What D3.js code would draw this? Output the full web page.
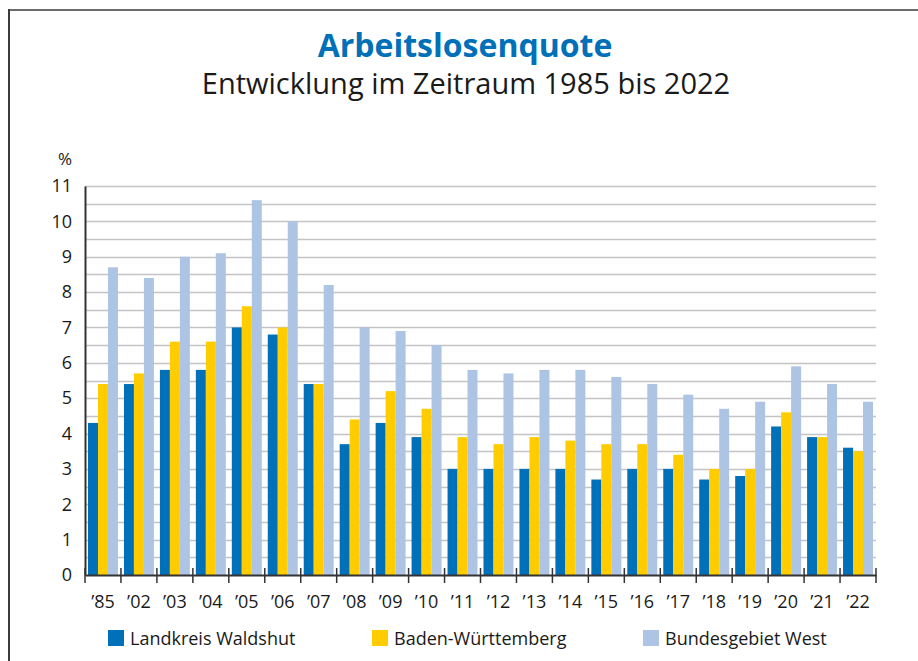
<!DOCTYPE html>
<html>
<head>
<meta charset="utf-8">
<script src="https://cdn.jsdelivr.net/npm/d3@7"></script>
<style>
  body { margin: 0; background: #fff; }
  svg { display: block; font-family: "Open Sans", sans-serif; }
</style>
</head>
<body>
<div id="chart"></div>
<script>
var years = ["\u201985", "\u201902", "\u201903", "\u201904", "\u201905", "\u201906", "\u201907", "\u201908", "\u201909", "\u201910", "\u201911",
             "\u201912", "\u201913", "\u201914", "\u201915", "\u201916", "\u201917", "\u201918", "\u201919", "\u201920", "\u201921", "\u201922"];
var waldshut = [4.3, 5.4, 5.8, 5.8, 7.0, 6.8, 5.4, 3.7, 4.3, 3.9, 3.0, 3.0, 3.0, 3.0, 2.7, 3.0, 3.0, 2.7, 2.8, 4.2, 3.9, 3.6];
var bawue    = [5.4, 5.7, 6.6, 6.6, 7.6, 7.0, 5.4, 4.4, 5.2, 4.7, 3.9, 3.7, 3.9, 3.8, 3.7, 3.7, 3.4, 3.0, 3.0, 4.6, 3.9, 3.5];
var west     = [8.7, 8.4, 9.0, 9.1, 10.6, 10.0, 8.2, 7.0, 6.9, 6.5, 5.8, 5.7, 5.8, 5.8, 5.6, 5.4, 5.1, 4.7, 4.9, 5.9, 5.4, 4.9];
var seriesNames = ["Landkreis Waldshut", "Baden-W\u00fcrttemberg", "Bundesgebiet West"];
var colors = ["#0070b9", "#ffcc00", "#aec4e4"];
var yTicks = [0, 1, 2, 3, 4, 5, 6, 7, 8, 9, 10, 11];

var width = 918, height = 661;
var plotLeft = 85, plotRight = 876, plotTop = 186, plotBottom = 575;

var svg = d3.select('#chart').append('svg')
            .attr('width', width)
            .attr('height', height);

// frame (top and left only)
svg.append('line').attr('x1', 8).attr('x2', width).attr('y1', 10).attr('y2', 10)
   .style('stroke', '#6b6b6b').style('stroke-width', 2);
svg.append('line').attr('x1', 9).attr('x2', 9).attr('y1', 9).attr('y2', height)
   .style('stroke', '#3c3c3c').style('stroke-width', 2);

// titles
svg.append('text').attr('x', 465).attr('y', 57).attr('text-anchor', 'middle')
   .style('font-size', '32px').style('font-weight', 'bold').style('fill', '#0070b9')
   .text('Arbeitslosenquote');
svg.append('text').attr('x', 466).attr('y', 94).attr('text-anchor', 'middle')
   .style('font-size', '29px').style('fill', '#1a1a1a')
   .text('Entwicklung im Zeitraum 1985 bis 2022');

var y = d3.scaleLinear().domain([0, 11]).range([plotBottom, plotTop]);
var x = d3.scaleBand().domain(years).range([plotLeft, plotRight]).paddingInner(0).paddingOuter(0);
var inner = d3.scaleBand().domain([0, 1, 2]).range([0, x.bandwidth()]).paddingOuter(0.3).paddingInner(0);

// gridlines every 0.5
var gridVals = d3.range(1, 23).map(function (d) { return d / 2; });
svg.append('g').selectAll('line').data(gridVals).enter().append('line')
   .attr('x1', plotLeft).attr('x2', plotRight)
   .attr('y1', function (d) { return Math.round(y(d)) + 0.5; })
   .attr('y2', function (d) { return Math.round(y(d)) + 0.5; })
   .style('stroke', '#c4c4c4').style('stroke-width', 1.5);

// bars
var all = [waldshut, bawue, west];
var groups = svg.append('g').selectAll('g').data(years).enter().append('g')
                .attr('transform', function (d) { return 'translate(' + x(d) + ',0)'; });
groups.selectAll('rect')
      .data(function (d, i) { return all.map(function (s, k) { return {k: k, v: s[i]}; }); })
      .enter().append('rect')
      .attr('x', function (d) { return inner(d.k); })
      .attr('width', inner.bandwidth())
      .attr('y', function (d) { return y(d.v); })
      .attr('height', function (d) { return plotBottom - y(d.v); })
      .style('fill', function (d) { return colors[d.k]; });

// y axis
var yAxis = d3.axisLeft(y).tickValues(yTicks).tickSize(0).tickPadding(13);
var yg = svg.append('g').attr('transform', 'translate(' + plotLeft + ',0)').call(yAxis);
yg.select('.domain').style('stroke', '#333').style('stroke-width', 2);
yg.selectAll('text').style('font-size', '18px').style('fill', '#1a1a1a')
  .style('font-family', '"Open Sans", sans-serif');

svg.append('text').attr('x', 72).attr('y', 165).attr('text-anchor', 'end')
   .style('font-size', '17px').style('fill', '#1a1a1a').text('%');

// x axis
var xAxis = d3.axisBottom(x).tickSize(0).tickPadding(20);
var xg = svg.append('g').attr('transform', 'translate(0,' + plotBottom + ')').call(xAxis);
xg.select('.domain').style('stroke', '#333').style('stroke-width', 2);
xg.selectAll('text').style('font-size', '18px').style('fill', '#1a1a1a')
  .style('font-family', '"Open Sans", sans-serif');

// boundary ticks
var bounds = years.map(function (d) { return x(d); }).concat([plotRight]);
svg.append('g').selectAll('line').data(bounds).enter().append('line')
   .attr('x1', function (d) { return d; }).attr('x2', function (d) { return d; })
   .attr('y1', plotBottom - 7).attr('y2', plotBottom + 8)
   .style('stroke', '#333').style('stroke-width', 1.5);

// legend
var legendX = [108, 372, 643];
var leg = svg.append('g').selectAll('g').data(seriesNames).enter().append('g')
             .attr('transform', function (d, i) { return 'translate(' + legendX[i] + ',630)'; });
leg.append('rect').attr('width', 16).attr('height', 16)
   .style('fill', function (d, i) { return colors[i]; });
leg.append('text').attr('x', 22).attr('y', 15)
   .style('font-size', '18px').style('fill', '#1a1a1a')
   .text(function (d) { return d; });
</script>
</body>
</html>
